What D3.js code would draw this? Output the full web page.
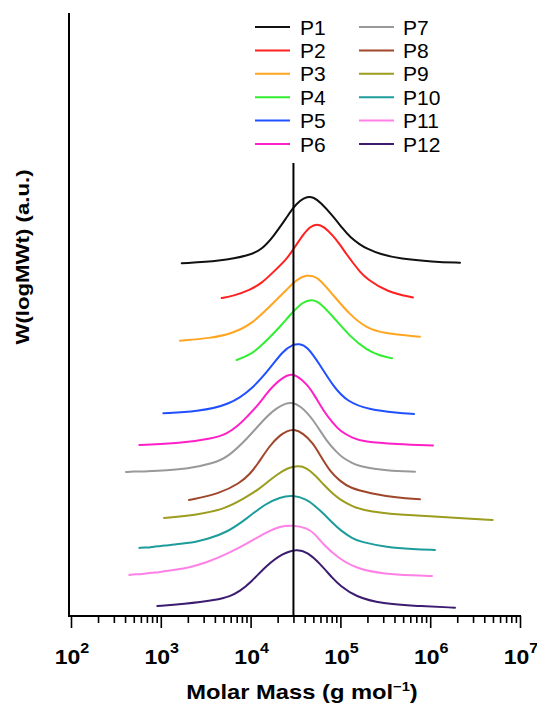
<!DOCTYPE html>
<html>
<head>
<meta charset="utf-8">
<script src="https://cdn.jsdelivr.net/npm/d3@7"></script>
<style>
  html, body { margin: 0; padding: 0; background: #fff; }
  svg { display: block; }
  text { font-family: "Liberation Sans", Arial, Helvetica, sans-serif; }
</style>
</head>
<body>
<svg id="chart" width="537" height="704"></svg>
<script>
// ---------------- DATA ----------------
const seriesNames = ["P1","P2","P3","P4","P5","P6","P7","P8","P9","P10","P11","P12"];
const seriesColors = ["#111111","#ff2020","#ffa520","#30ee30","#2050ff","#ff20c8",
                      "#999999","#a0462a","#9c9c1e","#1e9c9c","#ff80e6","#3c1c70"];
// vertical offsets (a.u.) of each trace
const offsets = [35.1, 31.64, 27.39, 25.47, 20.17, 17.01, 14.33, 11.54, 9.75, 6.77, 4.08, 1.0];
// each trace: [log10(M), W(logM) above its offset]
const P1 = [[3.233,0],[3.659,0.2],[3.993,0.8],[4.127,1.4],[4.249,2.6],[4.405,4.6],[4.472,5.5],[4.550,6.25],[4.628,6.65],[4.706,6.55],[4.773,6.1],[4.918,4.7],[5.029,3.4],[5.107,2.6],[5.218,1.85],[5.296,1.45],[5.441,0.9],[5.664,0.45],[6.031,0.15],[6.332,0.05]];
const P2 = [[3.678,0],[3.804,0.2],[3.993,0.8],[4.127,1.5],[4.249,2.55],[4.405,3.9],[4.472,4.8],[4.584,6.3],[4.661,7.1],[4.739,7.4],[4.817,7.1],[4.918,6.2],[4.996,5.3],[5.073,4.3],[5.140,3.5],[5.218,2.6],[5.296,1.9],[5.519,0.6],[5.808,0.05]];
const P3 = [[3.214,0],[3.548,0.24],[3.804,0.74],[4.027,1.74],[4.249,3.73],[4.405,5.1],[4.517,6.14],[4.628,6.54],[4.695,6.44],[4.773,6.1],[4.918,4.55],[5.107,2.56],[5.296,1.23],[5.474,0.74],[5.886,0.4]];
const P4 = [[3.845,0],[3.993,0.5],[4.105,1.32],[4.216,2.29],[4.327,3.31],[4.472,4.81],[4.584,5.8],[4.684,6.04],[4.773,5.7],[4.918,4.31],[5.107,2.32],[5.296,0.99],[5.441,0.43],[5.575,0.17]];
const P5 = [[3.028,0],[3.403,0.16],[3.771,0.83],[4.027,2.49],[4.216,4.48],[4.361,6.2],[4.472,6.85],[4.539,6.92],[4.628,6.7],[4.773,4.81],[4.918,2.72],[5.073,1.15],[5.330,0.33],[5.630,0.06],[5.820,-0.07]];
const P6 = [[2.761,0],[3.214,0.17],[3.581,0.67],[3.737,1.1],[3.882,2.09],[3.960,2.82],[4.071,3.85],[4.183,5.17],[4.249,5.87],[4.361,6.75],[4.450,7.07],[4.517,6.9],[4.628,6.07],[4.717,4.88],[4.806,3.48],[4.918,2.16],[4.996,1.39],[5.140,0.67],[5.252,0.33],[5.630,0.07],[6.031,-0.05]];
const P7 = [[2.612,0],[2.70,0.06],[2.78,0.03],[2.913,0.1],[3.05,0.16],[3.292,0.3],[3.581,0.85],[3.748,1.49],[3.960,3.28],[4.160,5.37],[4.294,6.4],[4.394,6.83],[4.450,6.93],[4.550,6.65],[4.695,5.27],[4.851,2.99],[4.962,1.94],[5.029,1.39],[5.140,0.85],[5.218,0.53],[5.519,0.13],[5.831,0.03]];
const P8 = [[3.314,0],[3.659,0.65],[3.882,1.69],[3.993,2.59],[4.071,3.48],[4.216,5.47],[4.327,6.45],[4.405,6.87],[4.483,7.07],[4.584,6.65],[4.695,5.67],[4.773,4.48],[4.884,2.84],[4.996,1.89],[5.107,1.19],[5.330,0.67],[5.630,0.23],[5.886,0.07]];
const P9 = [[3.036,0],[3.403,0.3],[3.715,0.9],[3.938,1.99],[4.105,2.95],[4.216,3.78],[4.294,4.3],[4.405,4.98],[4.528,5.2],[4.617,5.06],[4.739,4.08],[4.806,3.38],[4.918,2.39],[4.996,1.84],[5.140,1.12],[5.252,0.8],[5.474,0.5],[5.630,0.37],[5.998,0.17],[6.365,-0.03],[6.696,-0.2]];
const P10 = [[2.761,0],[2.824,0.06],[2.880,0.03],[2.913,0.13],[2.991,0.18],[3.047,0.24],[3.102,0.27],[3.192,0.4],[3.292,0.5],[3.381,0.6],[3.514,0.87],[3.737,1.54],[3.960,2.94],[4.160,4.38],[4.327,5.05],[4.472,5.27],[4.628,4.82],[4.695,4.35],[4.806,3.48],[4.918,2.44],[4.996,1.79],[5.140,0.9],[5.218,0.63],[5.519,0.05],[5.808,-0.13],[6.053,-0.2]];
const P11 = [[2.649,0],[2.72,0.08],[2.77,0.07],[2.83,0.15],[2.913,0.23],[2.98,0.27],[3.03,0.38],[3.102,0.45],[3.16,0.5],[3.22,0.62],[3.292,0.7],[3.514,1.24],[3.737,2.09],[3.960,3.13],[4.183,4.28],[4.327,4.85],[4.461,4.96],[4.628,4.7],[4.717,4.08],[4.806,3.08],[4.973,1.69],[5.185,0.6],[5.497,0.1],[5.808,-0.05],[6.020,-0.1]];
const P12 = [[2.961,0],[3.247,0.17],[3.626,0.6],[3.771,0.95],[3.882,1.49],[3.993,2.26],[4.183,4.08],[4.361,5.25],[4.517,5.67],[4.628,5.36],[4.773,4.23],[4.918,2.69],[4.996,2.04],[5.163,0.93],[5.474,0.2],[5.853,0],[6.276,-0.17]];
const traces = [P1,P2,P3,P4,P5,P6,P7,P8,P9,P10,P11,P12];

const refMass = 3e4;          // vertical reference line
const refLineTop = 45.07;     // a.u.
const tickExponents = [2,3,4,5,6,7];
const xTitle = "Molar Mass (g mol";
const xTitleSup = "\u22121";
const yTitle = "W(logMWt) (a.u.)";

// ---------------- CHART ----------------
const svg = d3.select("#chart");
const x = d3.scaleLog().domain([1e2, 1e7]).range([71, 520]);
const y = d3.scaleLinear().domain([0, 60]).range([616, 13]);

const line = d3.line()
  .x(d => x(Math.pow(10, d[0])))
  .y(d => y(d[1]))
  .curve(d3.curveBasis);

// traces
traces.forEach((tr, i) => {
  svg.append("path")
    .datum(tr.map(p => [p[0], p[1] + offsets[i]]))
    .attr("fill", "none")
    .attr("stroke", seriesColors[i])
    .attr("stroke-width", 2)
    .attr("stroke-linejoin", "round")
    .attr("stroke-linecap", "round")
    .attr("d", line);
});

// vertical reference line
svg.append("line")
  .attr("x1", x(refMass)).attr("x2", x(refMass))
  .attr("y1", y(0)).attr("y2", y(refLineTop))
  .attr("stroke", "#000").attr("stroke-width", 2);

// x axis
const majors = tickExponents.map(e => Math.pow(10, e));
const minors = [];
for (let e = 2; e < 7; e++) for (let m = 2; m <= 9; m++) minors.push(m * Math.pow(10, e));

const gx = svg.append("g").attr("transform", `translate(0,${y(0)})`);
gx.call(d3.axisBottom(x).tickValues(minors).tickSize(7).tickFormat(""));
gx.call(g => g.select(".domain").remove());
const gx2 = svg.append("g").attr("transform", `translate(0,${y(0)})`);
gx2.call(d3.axisBottom(x).tickValues(majors).tickSize(12).tickFormat(""));
gx2.call(g => g.select(".domain").remove());
svg.selectAll(".tick line").attr("stroke", "#000").attr("stroke-width", 1.6);

svg.append("line")
  .attr("x1", 68).attr("x2", x(1e7) + 1)
  .attr("y1", y(0)).attr("y2", y(0))
  .attr("stroke", "#000").attr("stroke-width", 2);
// y axis
svg.append("line")
  .attr("x1", 69).attr("x2", 69)
  .attr("y1", y(0) + 1).attr("y2", y(60))
  .attr("stroke", "#000").attr("stroke-width", 2);

// tick labels
tickExponents.forEach(e => {
  const t = svg.append("text")
    .attr("transform", `translate(${x(Math.pow(10, e)) + 1},664) scale(1.15,1)`)
    .attr("text-anchor", "middle")
    .attr("font-weight", "bold")
    .attr("font-size", 20)
    .attr("fill", "#000");
  t.append("tspan").text("10");
  t.append("tspan").attr("dy", -11).attr("font-size", 14).text(e);
});

// x title
const xt = svg.append("text")
  .attr("transform", "translate(302,699) scale(1.13,1)")
  .attr("text-anchor", "middle")
  .attr("font-weight", "bold")
  .attr("font-size", 21)
  .attr("fill", "#000");
xt.append("tspan").text(xTitle);
xt.append("tspan").attr("dy", -8).attr("font-size", 13).text(xTitleSup);
xt.append("tspan").attr("dy", 8).text(")");

// y title
svg.append("text")
  .attr("transform", "translate(29,257) rotate(-90) scale(1.17,1)")
  .attr("text-anchor", "middle")
  .attr("font-weight", "bold")
  .attr("font-size", 19)
  .attr("fill", "#000")
  .text(yTitle);

// legend
const legCols = [{lx: 255, tx: 300}, {lx: 359, tx: 403}];
seriesNames.forEach((n, i) => {
  const col = legCols[Math.floor(i / 6)];
  const row = i % 6;
  const cy = 27 + row * 23.4;
  svg.append("line")
    .attr("x1", col.lx).attr("x2", col.lx + 35)
    .attr("y1", cy).attr("y2", cy)
    .attr("stroke", seriesColors[i]).attr("stroke-width", 2);
  svg.append("text")
    .attr("x", col.tx).attr("y", cy + 7.5)
    .attr("font-size", 21)
    .attr("fill", "#000")
    .text(n);
});
</script>
</body>
</html>
